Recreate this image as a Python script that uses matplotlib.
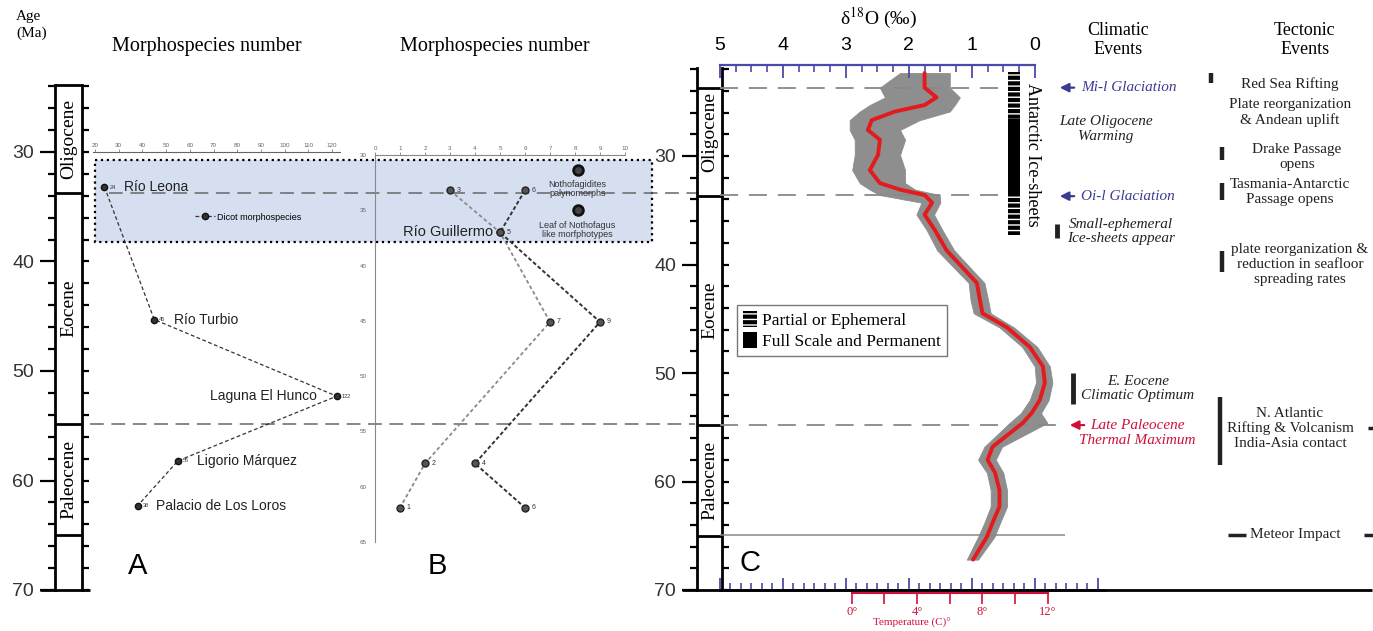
import numpy as np
import matplotlib
matplotlib.use('Agg')
import matplotlib.pyplot as plt
from matplotlib.patches import Patch, Rectangle
from matplotlib.ticker import FixedLocator, MultipleLocator

# ---- panel A: dicot morphospecies per site
sites_a = ['Río Leona', 'Río Turbio', 'Laguna El Hunco', 'Ligorio Márquez', 'Palacio de Los Loros']
ages_a = [33.2, 45.3, 52.3, 58.2, 62.3]
dicots_a = [24, 45, 122, 55, 38]

# ---- panel B: Nothofagus records
ages_b = [33.2, 37.0, 45.1, 57.9, 61.9]
leaf_b = [3, 5, 7, 2, 1]
pollen_b = [6, 5, 9, 4, 6]

# ---- panel C: deep-sea d18O stack (smoothed curve + envelope of raw data)
ages_c = [22.35, 23.7, 24.6, 25.3, 25.9, 26.7, 27.6, 28.5, 29.9, 31.3, 32.5, 33.1, 33.6, 34.3,
          35.4, 36.8, 38.7, 41.7, 43.3, 44.5, 45.8, 47.6, 49.4, 50.9, 52.5, 53.7, 54.6, 56.8,
          58.0, 59.2, 60.8, 62.3, 63.8, 65.1, 67.2]
d18o_mean = [1.75, 1.75, 1.56, 1.75, 2.22, 2.59, 2.65, 2.46, 2.49, 2.62, 2.46, 2.14, 1.75, 1.63,
             1.75, 1.59, 1.40, 0.92, 0.87, 0.83, 0.44, 0.08, -0.13, -0.16, -0.08, 0.05, 0.19, 0.67,
             0.75, 0.63, 0.56, 0.56, 0.67, 0.76, 0.98]
d18o_lo = [2.14, 2.46, 2.38, 2.62, 2.78, 2.94, 2.94, 2.86, 2.86, 2.90, 2.78, 2.62, 2.46, 1.80,
           1.88, 1.72, 1.55, 1.05, 1.02, 0.97, 0.56, 0.20, 0.00, -0.02, 0.08, 0.22, 0.40, 0.80,
           0.90, 0.76, 0.70, 0.70, 0.80, 0.90, 1.08]
d18o_hi = [1.35, 1.35, 1.19, 1.27, 1.35, 1.83, 2.14, 2.06, 2.14, 2.06, 2.06, 1.90, 1.51, 1.50,
           1.60, 1.47, 1.28, 0.80, 0.74, 0.70, 0.33, -0.04, -0.24, -0.28, -0.22, -0.10, -0.20, 0.52,
           0.62, 0.50, 0.44, 0.44, 0.55, 0.64, 0.90]

ice_partial = [(22.3, 26.6), (33.6, 37.3)]
ice_full = [(26.6, 33.6)]

epochs = ['Oligocene', 'Eocene', 'Paleocene']
epoch_bounds = [33.7, 54.8, 65.0]

clim_arrows = [('Mi-l Glaciation', 23.7), ('Oi-l Glaciation', 33.7)]
clim_bars = [('Small-ephemeral\nIce-sheets appear', 36.3, 37.6),
             ('E. Eocene\nClimatic Optimum', 50.0, 52.9)]
tect_bars = [('Red Sea Rifting', 22.35, 23.3),
             ('Drake Passage\nopens', 29.2, 30.4),
             ('Tasmania-Antarctic\nPassage opens', 32.5, 34.05),
             ('plate reorganization &\nreduction in seafloor\nspreading rates', 38.8, 40.7),
             ('N. Atlantic\nRifting & Volcanism\nIndia-Asia contact', 52.2, 58.5)]
kt_age = 64.9
lptm_age = 54.8

SERIF = 'Liberation Serif'
SANS = 'Liberation Sans'
plt.rcParams['font.family'] = [SANS, 'DejaVu Sans']
plt.rcParams['mathtext.fontset'] = 'stix'
BLUE = '#4a4aa8'
NAVY = '#3b3b8f'
CRIMSON = '#d0103a'

W, H = 1373, 631
fig = plt.figure(figsize=(W / 100, H / 100), dpi=100)


def px_axes(x0, y0, x1, y1):
    ax = fig.add_axes([x0 / W, 1 - y1 / H, (x1 - x0) / W, (y1 - y0) / H])
    ax.set_facecolor('none')
    return ax


def ftext(x, y, s, **kw):
    fig.text(x / W, 1 - y / H, s, **kw)


def draw_column(ax, top, bottom_age=70):
    ax.set_xlim(0, 1)
    for s in ['top', 'bottom', 'right']:
        ax.spines[s].set_visible(False)
    ax.spines['left'].set_bounds(top, bottom_age)
    ax.spines['left'].set_linewidth(2)
    ax.set_xticks([])
    ax.set_yticks(range(30, 71, 10))
    ticks = list(range(int(np.ceil(top / 2) * 2), 71, 2))
    ax.yaxis.set_minor_locator(FixedLocator(ticks))
    ax.tick_params(axis='y', which='major', length=11, width=1.6, pad=4, labelsize=14,
                   labelcolor='#333')
    ax.tick_params(axis='y', which='minor', length=5, width=1.6)
    sec = ax.secondary_yaxis('right')
    sec.set_yticks(ticks)
    sec.tick_params(length=5, width=1.6, labelright=False)
    sec.spines['right'].set_bounds(top, bottom_age)
    sec.spines['right'].set_linewidth(2)
    ax.hlines(epoch_bounds, 0, 1, color='black', lw=2)
    lims = [top] + epoch_bounds
    for name, a, b in zip(epochs, lims[:-1], lims[1:]):
        ax.text(0.5, (a + b) / 2, name, rotation=90, ha='center', va='center',
                family=SERIF, fontsize=14)


# ================= panel A =================
axAL = px_axes(55, 42.5, 82, 590)
axAL.set_ylim(70, 20)
draw_column(axAL, 23.9)
axAL.hlines(23.9, 0, 1, color='black', lw=2)
axAL.hlines(70, -0.56, 1.3, color='black', lw=2, clip_on=False)

axA = px_axes(95, 42.5, 332, 590)
axA.set_xlim(20, 120)
axA.set_ylim(70, 20)
for s in ['left', 'right', 'bottom']:
    axA.spines[s].set_visible(False)
axA.spines['top'].set_position(('data', 30))
axA.spines['top'].set_bounds(19, 123.5)
axA.spines['top'].set_color('#666')
axA.spines['top'].set_linewidth(0.8)
axA.xaxis.tick_top()
axA.set_xticks(range(20, 121, 10))
axA.tick_params(axis='x', length=2, width=0.5, color='#666', labelsize=4.5, labelcolor='#666', pad=1)
axA.set_yticks([])

axA.add_patch(Rectangle((20, 30.7), 235, 7.5, facecolor='#d6dff0', edgecolor='black',
                        ls=':', lw=1.6, clip_on=False, zorder=0))
axA.hlines(33.7, 26, 275, color='#666', lw=1.1, linestyles=(0, (9, 5)), clip_on=False)
axA.hlines(54.8, 18, 273, color='#666', lw=1.1, linestyles=(0, (9, 5)), clip_on=False)

axA.plot(dicots_a, ages_a, ls=(0, (3, 2)), color='#333', lw=0.9, marker='o', ms=4.5,
         mfc='#333', mec='#111', label='Dicot morphospecies', clip_on=False)
name_dx = [14, 14, -14, 14, 13]
for site, v, a, dx in zip(sites_a, dicots_a, ages_a, name_dx):
    axA.annotate(str(v), (v, a), xytext=(3.5, 0), textcoords='offset points',
                 fontsize=4, va='center', color='#333', annotation_clip=False)
    axA.annotate(site, (v, a), xytext=(dx, 0), textcoords='offset points', fontsize=10,
                 va='center', ha='left' if dx > 0 else 'right', color='#222',
                 annotation_clip=False)
axA.legend(loc='center', bbox_to_anchor=(0.646, 0.681), frameon=False, fontsize=6.5,
           handlelength=2.2, handletextpad=0.3)

# ================= panel B =================
axB = px_axes(375, 155, 625, 542)
axB.set_xlim(0, 10)
axB.set_ylim(65, 30)
for s in ['right', 'bottom']:
    axB.spines[s].set_visible(False)
for s in ['left', 'top']:
    axB.spines[s].set_color('#888')
    axB.spines[s].set_linewidth(0.8)
axB.xaxis.tick_top()
axB.set_xticks(range(0, 11))
axB.set_yticks(range(30, 66, 5))
axB.tick_params(axis='x', length=2, width=0.5, color='#666', labelsize=4.5, labelcolor='#666', pad=1)
axB.tick_params(axis='y', length=0, labelsize=4.5, labelcolor='#666', pad=6)

axB.plot(leaf_b, ages_b, ls=(0, (2, 1.5)), color='#8a8a8a', lw=1.3, marker='o', ms=5,
         mfc='#555', mec='#222', mew=1, clip_on=False)
axB.plot(pollen_b, ages_b, ls=(0, (2, 1.2)), color='#333', lw=1.4, marker='o', ms=5,
         mfc='#555', mec='#222', mew=1, clip_on=False)
for series in (leaf_b, pollen_b):
    for i, (v, a) in enumerate(zip(series, ages_b)):
        if series is pollen_b and i == 1:
            continue
        axB.annotate(str(v), (v, a), xytext=(5, 0), textcoords='offset points',
                     fontsize=5, va='center', color='#333', annotation_clip=False)
axB.annotate('Río Guillermo', (leaf_b[1], ages_b[1]), xytext=(-5, 0), textcoords='offset points',
             fontsize=10.5, va='center', ha='right', color='#222')

axB.plot([0.812], [0.961], transform=axB.transAxes, marker='o', ms=7, mfc='#444', mec='#111',
         mew=2, clip_on=False)
axB.plot([0.812], [0.858], transform=axB.transAxes, marker='o', ms=7, mfc='#444', mec='#111',
         mew=2, clip_on=False)
axB.text(0.81, 0.912, 'Nothofagidites\npalynomorphs', transform=axB.transAxes, fontsize=6.5,
         ha='center', va='center', color='#333', linespacing=1.1)
axB.text(0.81, 0.806, 'Leaf of Nothofagus\nlike morfphotypes', transform=axB.transAxes,
         fontsize=6.5, ha='center', va='center', color='#333', linespacing=1.1)

# ================= panel C =================
C_TOP = 70 - 525 / 10.85
axCL = px_axes(697, 65, 722, 590)
axCL.set_ylim(70, C_TOP)
draw_column(axCL, 21.9)
axCL.hlines(23.7, 0, 1, color='black', lw=2)

axC = px_axes(720, 65, 1104, 590)
axC.set_xlim(5, -1.1)
axC.set_ylim(70, C_TOP)


def d_of(px):
    return 5 - (px - 720) / 63


for s in ['left', 'right', 'bottom']:
    axC.spines[s].set_visible(False)
axC.spines['top'].set_color(BLUE)
axC.spines['top'].set_linewidth(1.6)
axC.spines['top'].set_bounds(5, 0)
axC.xaxis.tick_top()
axC.set_xticks([5, 4, 3, 2, 1, 0])
axC.xaxis.set_minor_locator(FixedLocator(np.arange(0, 5.01, 0.25)))
axC.tick_params(axis='x', which='major', direction='in', length=9, width=1.3, color=BLUE,
                labelsize=14, pad=8)
axC.tick_params(axis='x', which='minor', direction='in', length=5, width=1.2, color=BLUE)
axC.set_yticks([])

axC.hlines(70, d_of(682), d_of(1373), color='black', lw=2, clip_on=False, zorder=1)
secb = axC.secondary_xaxis('bottom')
secb.set_xticks([5, 4, 3, 2, 1, 0, -1])
secb.xaxis.set_minor_locator(MultipleLocator(1 / 6))
secb.tick_params(which='major', direction='in', length=9, width=1.3, color=BLUE, labelbottom=False)
secb.tick_params(which='minor', direction='in', length=5, width=1.2, color=BLUE)
secb.spines['bottom'].set_color('#2a2a55')
secb.spines['bottom'].set_linewidth(2)


def d2t(d):
    return (2.905 - np.asarray(d)) / 0.259


def t2d(t):
    return 2.905 - 0.259 * np.asarray(t)


secT = axC.secondary_xaxis(-0.006, functions=(d2t, t2d))
secT.set_xticks([0, 4, 8, 12], labels=['0°', '4°', '8°', '12°'])
secT.set_xticks([2, 6, 10], minor=True)
secT.tick_params(which='both', direction='out', length=8, width=1.2, color=CRIMSON,
                 labelcolor=CRIMSON, labelsize=9, pad=1)
secT.spines['bottom'].set_color(CRIMSON)
secT.spines['bottom'].set_linewidth(1.5)
secT.spines['bottom'].set_bounds(0, 12)
for lab in secT.get_xticklabels():
    lab.set_family(SERIF)
secT.set_xlabel('Temperature (C)°', color=CRIMSON, fontsize=8, family=SERIF, labelpad=0)

axC.hlines([23.7, 33.6], 5, d_of(1008), color='#888', lw=1.3, linestyles=(0, (10, 6)))
axC.hlines(lptm_age, 5, d_of(1062), color='#888', lw=1.3, linestyles=(0, (10, 6)), clip_on=False)
axC.hlines(kt_age, 5, d_of(1065), color='#888', lw=1.1, clip_on=False)

axC.fill_betweenx(ages_c, d18o_lo, d18o_hi, color='#8e8e8e', lw=0.6, edgecolor='#8e8e8e')
axC.plot(d18o_mean, ages_c, color='#e41a1c', lw=2.8, solid_joinstyle='round',
         solid_capstyle='round')

for a, b in ice_partial:
    axC.barh((a + b) / 2, d_of(1008) - d_of(1020), height=b - a, left=d_of(1020),
             color='black', edgecolor='white', hatch='---', lw=0)
for a, b in ice_full:
    axC.barh((a + b) / 2, d_of(1008) - d_of(1020), height=b - a, left=d_of(1020),
             color='black', lw=0)
axC.text(d_of(1033), 29.9, 'Antarctic Ice-sheets', rotation=-90, ha='center', va='center',
         family=SERIF, fontsize=13, clip_on=False)

handles = [Patch(facecolor='black', edgecolor='white', hatch='---', lw=0),
           Patch(facecolor='black')]
axC.legend(handles, ['Partial or Ephemeral', 'Full Scale and Permanent'], loc='upper left',
           bbox_to_anchor=(0.044, 0.543), borderaxespad=0, fancybox=False, edgecolor='#777',
           framealpha=1, prop=dict(family=SERIF, size=12.5), handlelength=0.8,
           handleheight=1.0, handletextpad=0.3, borderpad=0.35, labelspacing=0.2)

# ================= event columns =================
axE = px_axes(1040, 65, 1373, 590)
axE.set_xlim(1040, 1373)
axE.set_ylim(70, C_TOP)
axE.axis('off')

for label, age in clim_arrows:
    axE.annotate('', xy=(1057, age), xytext=(1077, age),
                 arrowprops=dict(arrowstyle='-|>', color=NAVY, lw=1.6, mutation_scale=13))
    axE.text(1081, age, label, color=NAVY, family=SERIF, style='italic', fontsize=11,
             va='center', ha='left')
axE.annotate('', xy=(1067, lptm_age), xytext=(1087, lptm_age),
             arrowprops=dict(arrowstyle='-|>', color=CRIMSON, lw=1.6, mutation_scale=13))
axE.text(1137, lptm_age - 0.55, 'Late Paleocene\nThermal Maximum', color=CRIMSON, family=SERIF,
         style='italic', fontsize=11, va='top', ha='center', linespacing=1.15)
axE.text(1106, 27.5, 'Late Oligocene\nWarming', family=SERIF, style='italic', fontsize=11,
         va='center', ha='center', color='#222', linespacing=1.15)

clim_x = [1057, 1073]
clim_tx = [1121, 1138]
for (label, a, b), x, tx in zip(clim_bars, clim_x, clim_tx):
    axE.vlines(x, a, b, color='#222', lw=3.5)
    axE.text(tx, (a + b) / 2, label, family=SERIF, style='italic', fontsize=11, va='center',
             ha='center', color='#222', linespacing=1.15)

tect_x = [1211, 1222, 1222, 1222, 1220]
tect_tx = [1290, 1297, 1290, 1300, 1290]
tect_ty = [23.4, 30.1, 33.3, 40.0, 55.1]
for (label, a, b), x, tx, ty in zip(tect_bars, tect_x, tect_tx, tect_ty):
    axE.vlines(x, a, b, color='#222', lw=3.2)
    axE.text(tx, ty, label, family=SERIF, fontsize=11, va='center', ha='center', color='#222',
             linespacing=1.15)
axE.text(1290, 26.0, 'Plate reorganization\n& Andean uplift', family=SERIF, fontsize=11,
         va='center', ha='center', color='#222', linespacing=1.15)
axE.hlines(kt_age, 1228, 1246, color='#222', lw=2.5)
axE.hlines(kt_age, 1364, 1373, color='#222', lw=2.5, clip_on=False)
axE.hlines(55.1, 1368, 1373, color='#222', lw=2.5, clip_on=False)
axE.text(1250, kt_age, 'Meteor Impact', family=SERIF, fontsize=11, va='center', ha='left',
         color='#222')

# ================= headers and panel letters =================
ftext(16, 25, 'Age\n(Ma)', family=SERIF, fontsize=11, ha='left', va='center', linespacing=1.35)
ftext(207, 46, 'Morphospecies number', family=SERIF, fontsize=14.5, ha='center', va='center')
ftext(495, 46, 'Morphospecies number', family=SERIF, fontsize=14.5, ha='center', va='center')
ftext(878, 18, 'δ$^{18}$O (‰)', family=SERIF, fontsize=14, ha='center', va='center')
ftext(1118, 40, 'Climatic\nEvents', family=SERIF, fontsize=13, ha='center', va='center',
      linespacing=1.15)
ftext(1305, 40, 'Tectonic\nEvents', family=SERIF, fontsize=13, ha='center', va='center',
      linespacing=1.15)
for letter, x, y in [('A', 138, 566), ('B', 437, 566), ('C', 750, 563)]:
    ftext(x, y, letter, fontsize=21, ha='center', va='center', family=SANS)

fig.savefig('out.png', dpi=100)
